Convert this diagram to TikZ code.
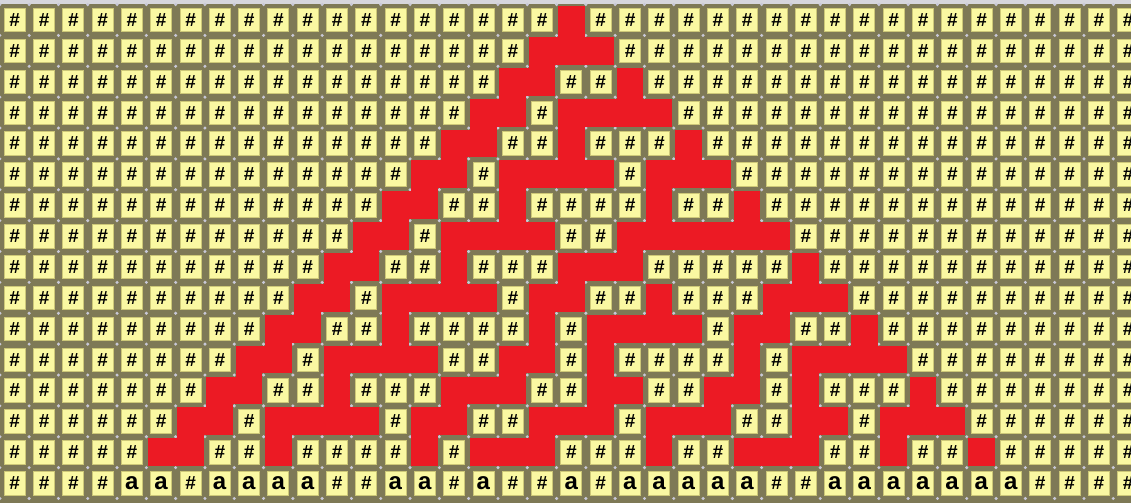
\documentclass[tikz,border=0pt]{standalone}
\usepackage{fontspec}
\setmainfont{Liberation Sans}
\definecolor{bgolive}{RGB}{126,121,86}
\definecolor{cellyel}{RGB}{250,248,162}
\definecolor{celledge}{RGB}{205,200,120}
\definecolor{cellred}{RGB}{236,26,36}
\definecolor{dotgray}{RGB}{200,200,215}
\definecolor{topgray}{RGB}{214,214,220}
\newcommand\rcval[2]{\ifcsname rcv-#1-#2\endcsname\csname rcv-#1-#2\endcsname\else0\fi}
\begin{document}
\begin{tikzpicture}[x=1pt,y=1pt,
  yelcell/.style={draw=celledge,line width=0.6pt,fill=cellyel,minimum width=21pt,minimum height=23.5pt,inner sep=0pt,text=black},
  hashtxt/.style={font=\fontsize{19}{19}\selectfont\bfseries\itshape},
  atxt/.style={font=\fontsize{24}{24}\selectfont\bfseries},
  redfill/.style={fill=cellred}]
\useasboundingbox (0,-503) rectangle (1131,0);
\clip (0,-503) rectangle (1131,0);
% Rule 30 evolution from a single cell
\expandafter\gdef\csname rcv-1-20\endcsname{1}
\foreach \ri in {2,...,16}{
  \foreach \ci in {1,...,39}{
    \pgfmathtruncatemacro\myrp{\ri-1}
    \pgfmathtruncatemacro\mycm{\ci-1}
    \pgfmathtruncatemacro\mycp{\ci+1}
    \edef\vL{\rcval{\myrp}{\mycm}}
    \edef\vC{\rcval{\myrp}{\ci}}
    \edef\vR{\rcval{\myrp}{\mycp}}
    \pgfmathtruncatemacro\vN{mod(\vL+min(1,\vC+\vR),2)}
    \expandafter\xdef\csname rcv-\ri-\ci\endcsname{\vN}
  }
}
\fill[bgolive] (0,-503) rectangle (1131,0);
\fill[topgray] (0,-4.5) rectangle (1131,0);
\foreach \ri in {0,...,16}{
  \foreach \ci in {0,...,39}{
    \fill[dotgray] ({14.5+(\ci-1)*29.3+14.65},{-(20+(\ri-1)*30.87)-15.435}) circle (1.7);
  }
}
\foreach \ri in {1,...,16}{
  \foreach \ci in {1,...,39}{
    \edef\vv{\rcval{\ri}{\ci}}
    \pgfmathsetmacro\xx{14.5+(\ci-1)*29.3}
    \pgfmathsetmacro\yy{-(20+(\ri-1)*30.87)}
    \ifnum\ri=16
      \ifnum\vv=1
        \node[yelcell,atxt] (c-\ri-\ci) at (\xx,\yy) {a};
      \else
        \node[yelcell,hashtxt] (c-\ri-\ci) at (\xx,\yy) {\#};
      \fi
    \else
      \ifnum\vv=0
        \node[yelcell,hashtxt] (c-\ri-\ci) at (\xx,\yy) {\#};
      \else
        \pgfmathtruncatemacro\mycp{\ci+1}
        \pgfmathtruncatemacro\myrn{\ri+1}
        \edef\vR{\rcval{\ri}{\mycp}}
        \ifnum\myrn>15
          \def\vB{0}\def\vD{0}
        \else
          \edef\vB{\rcval{\myrn}{\ci}}
          \edef\vD{\rcval{\myrn}{\mycp}}
        \fi
        \fill[redfill] (\xx-13.3,\yy-13.9) rectangle (\xx+13.3,\yy+13.9);
        \ifnum\vR=1
          \fill[redfill] (\xx,\yy-13.9) rectangle (\xx+29.3,\yy+13.9);
        \fi
        \ifnum\vB=1
          \fill[redfill] (\xx-13.3,\yy) rectangle (\xx+13.3,\yy-30.87);
        \fi
        \ifnum\numexpr\vR+\vB+\vD\relax=3
          \fill[redfill] (\xx,\yy) rectangle (\xx+29.3,\yy-30.87);
        \fi
      \fi
    \fi
  }
}
\end{tikzpicture}
\end{document}
